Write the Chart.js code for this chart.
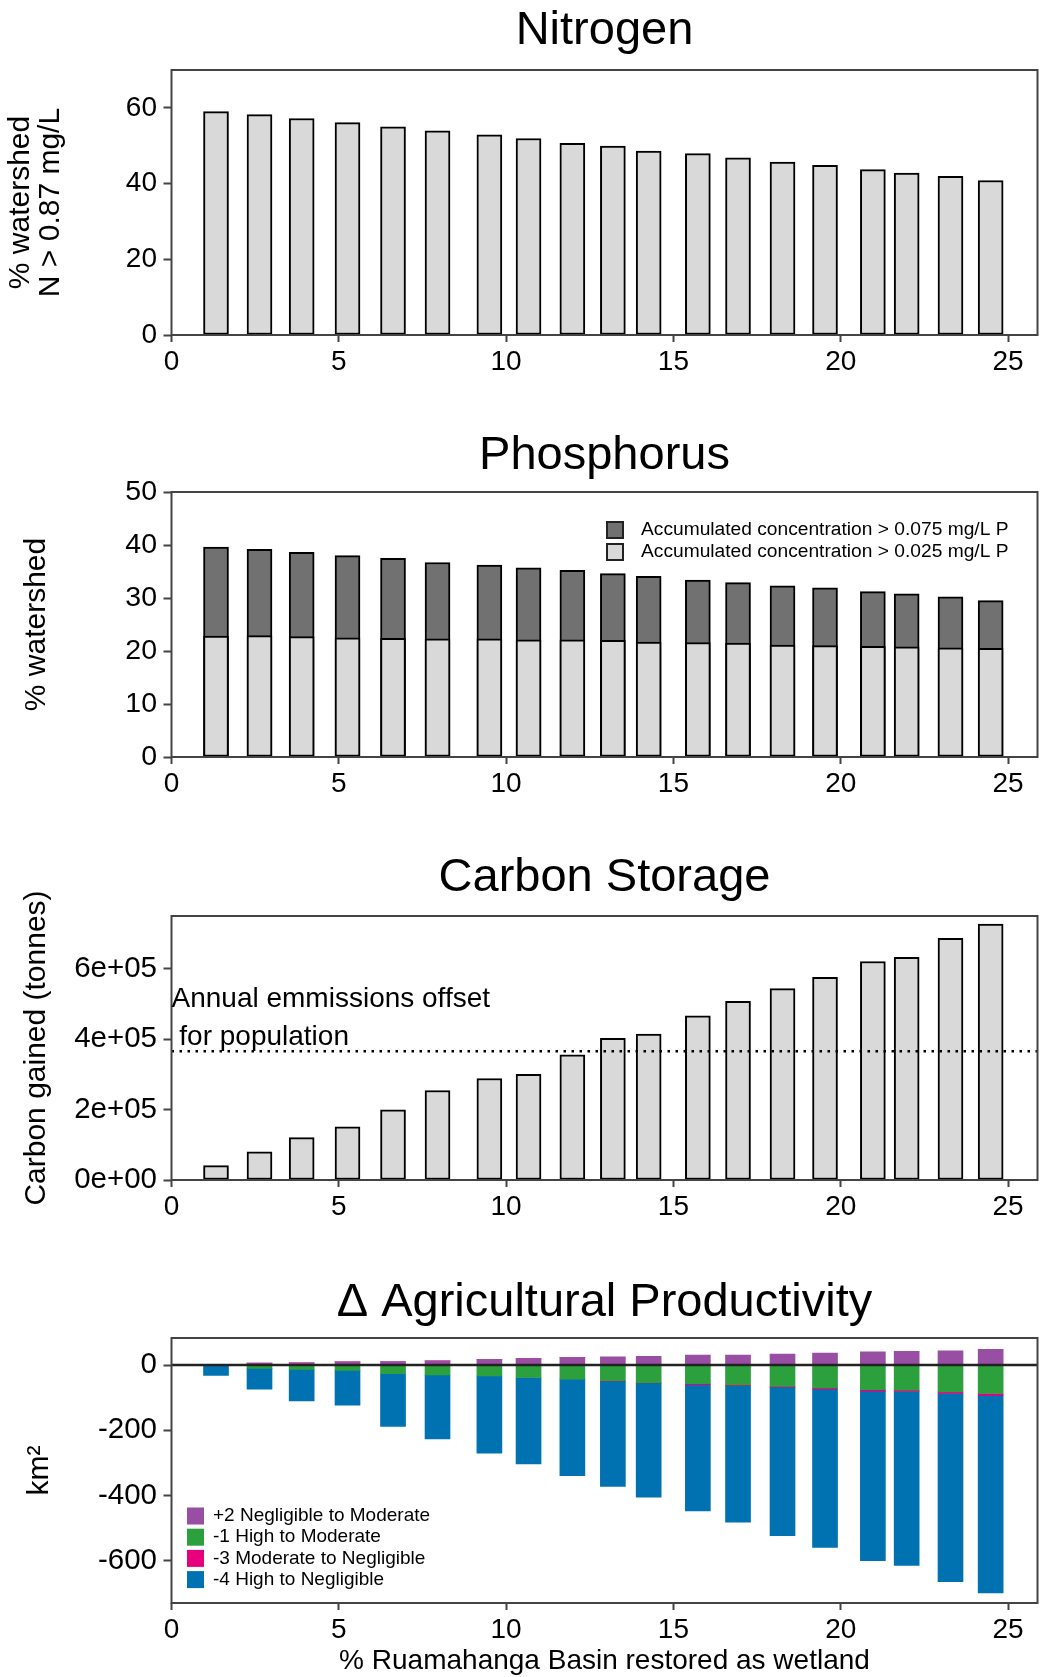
<!DOCTYPE html>
<html>
<head>
<meta charset="utf-8">
<title>Wetland restoration trade-offs</title>
<script src="https://cdn.jsdelivr.net/npm/chart.js@4.4.0/dist/chart.umd.min.js"></script>
<style>
  html, body { margin: 0; padding: 0; background: #fff; }
  #wrap { position: relative; width: 1043px; height: 1677px; }
  #wrap canvas { position: absolute; left: 0; }
</style>
</head>
<body>
<div id="wrap">
  <canvas id="nitrogenChart" width="1043" height="400" style="top:0px"></canvas>
  <canvas id="phosphorusChart" width="1043" height="420" style="top:400px"></canvas>
  <canvas id="carbonChart" width="1043" height="420" style="top:820px"></canvas>
  <canvas id="agriChart" width="1043" height="437" style="top:1240px"></canvas>
</div>
<script>
// ---- data ----
const restoredPct = [1.33, 2.63, 3.89, 5.26, 6.62, 7.95, 9.5, 10.67, 11.98, 13.19, 14.26, 15.73, 16.93, 18.26, 19.53, 20.96, 21.97, 23.28, 24.48];
const xTicks = [0, 5, 10, 15, 20, 25];
const xTickLabels = ['0', '5', '10', '15', '20', '25'];

const nitrogenPct = [59.0, 58.2, 57.2, 56.1, 55.0, 53.9, 52.9, 51.9, 50.6, 49.9, 48.6, 47.9, 46.8, 45.7, 44.8, 43.7, 42.8, 41.9, 40.8];
const nitrogenTicks = [0, 20, 40, 60];

// light part (> 0.025 mg/L P) and top of the dark part (> 0.075 mg/L P)
const phosLight = [22.8, 22.9, 22.7, 22.5, 22.4, 22.3, 22.3, 22.1, 22.1, 22.0, 21.7, 21.6, 21.5, 21.1, 21.0, 20.9, 20.8, 20.6, 20.5];
const phosTop = [39.6, 39.2, 38.6, 38.0, 37.5, 36.7, 36.2, 35.7, 35.2, 34.6, 34.1, 33.4, 32.9, 32.3, 31.9, 31.2, 30.8, 30.2, 29.5];
const phosTicks = [0, 10, 20, 30, 40, 50];

const carbonTonnes = [41000, 80000, 120000, 151000, 199000, 254000, 288000, 300000, 355000, 402000, 414000, 466000, 507000, 543000, 575000, 620000, 632000, 686000, 726000];
const carbonOffset = 365000;
const carbonTicks = [0, 200000, 400000, 600000];
const carbonTickLabels = ['0e+00', '2e+05', '4e+05', '6e+05'];

// km2 changing productivity class
const agriPlus2 = [0, 6, 7, 10, 11, 13, 18, 20, 23, 25, 27, 31, 31, 34, 37, 41, 42, 44, 48];
const agriMinus1 = [0, -10, -13, -16, -26, -30, -33, -38, -43, -48, -54, -57, -61, -65, -70, -75, -77, -82, -87];
const agriMinus3 = [0, 0, 0, 0, 0, 0, 0, 0, 0, -1, -1, -3, -2, -3, -4, -5, -4, -5, -6];
const agriMinus4 = [-32, -64, -97, -107, -162, -196, -237, -265, -296, -323, -350, -387, -418, -455, -485, -519, -533, -577, -605];
const agriTicks = [-600, -400, -200, 0];
const agriTickLabels = ['-600', '-400', '-200', '0'];

// ---- look ----
const fontFamily = "'Liberation Sans', Arial, sans-serif";
const axisColor = '#444';
const lightGrey = '#d9d9d9';
const darkGrey = '#717171';
const xMax = 25.88;

Chart.defaults.font.family = fontFamily;
Chart.defaults.color = '#000';

const points = ys => restoredPct.map((x, i) => ({ x, y: ys[i] }));

// box round the plot area, legends and notes drawn inside it
function extras(cfg) {
    return {
        id: 'extras',
        afterDatasetsDraw(chart) {
            const { ctx, chartArea: a } = chart;
            ctx.save();
            ctx.strokeStyle = axisColor;
            ctx.lineWidth = 2;
            ctx.strokeRect(a.left, a.top, a.right - a.left, a.bottom - a.top);

            if (cfg.legend) {
                const lg = cfg.legend;
                ctx.font = lg.size + 'px ' + fontFamily;
                ctx.textBaseline = 'middle';
                ctx.textAlign = 'left';
                lg.items.forEach((it, i) => {
                    const y = lg.y + i * lg.rowGap;
                    ctx.fillStyle = it.fill;
                    ctx.fillRect(lg.x, y - lg.box / 2, lg.box, lg.box);
                    if (it.stroke) {
                        ctx.strokeStyle = it.stroke;
                        ctx.lineWidth = 2;
                        ctx.strokeRect(lg.x + 1, y - lg.box / 2 + 1, lg.box - 2, lg.box - 2);
                    }
                    ctx.fillStyle = '#000';
                    ctx.fillText(it.label, lg.x + lg.box + lg.gap, y);
                });
            }

            if (cfg.note) {
                const n = cfg.note;
                const xs = chart.scales.x, ys = chart.scales.y;
                ctx.font = n.size + 'px ' + fontFamily;
                ctx.fillStyle = '#000';
                ctx.textBaseline = 'alphabetic';
                ctx.textAlign = 'left';
                n.lines.forEach((t, i) => {
                    ctx.fillText(t, xs.getPixelForValue(n.x), ys.getPixelForValue(n.y) + i * n.lineGap);
                });
            }
            ctx.restore();
        }
    };
}

function xScale(height, title) {
    return {
        type: 'linear',
        min: 0,
        max: xMax,
        offset: false,
        stacked: true,
        afterBuildTicks: axis => { axis.ticks = xTicks.map(v => ({ value: v })); },
        afterFit: axis => { axis.height = height; },
        grid: { drawOnChartArea: false, drawTicks: true, tickLength: 7, tickWidth: 2, tickColor: axisColor, offset: false },
        border: { display: false },
        ticks: { font: { size: 28 }, padding: 3, maxRotation: 0, autoSkip: false, callback: (v, i) => xTickLabels[i] },
        title: title || { display: false }
    };
}

function yScale(min, max, ticks, labels, tickSize, title, extra) {
    return Object.assign({
        min,
        max,
        afterBuildTicks: axis => { axis.ticks = ticks.map(v => ({ value: v })); },
        afterFit: axis => { axis.width = 171.5; },
        grid: { drawOnChartArea: false, drawTicks: true, tickLength: 8, tickWidth: 2, tickColor: axisColor },
        border: { display: false },
        ticks: { font: { size: tickSize }, padding: 6.5, autoSkip: false, callback: (v, i) => labels[i] },
        title
    }, extra || {});
}

function chartTitle(text, padTop, padBottom) {
    return {
        display: true,
        text,
        fullSize: false,
        color: '#000',
        font: { size: 47, weight: 'normal', lineHeight: 1 },
        padding: { top: padTop, bottom: padBottom }
    };
}

const baseOptions = {
    responsive: false,
    animation: false,
    devicePixelRatio: 1,
    layout: { padding: { left: 0, right: 5.5, top: 0, bottom: 0 } },
    events: []
};

// Nitrogen
new Chart(document.getElementById('nitrogenChart'), {
    type: 'bar',
    data: {
        datasets: [{
            data: points(nitrogenPct),
            backgroundColor: lightGrey,
            borderColor: '#000',
            borderWidth: 2,
            borderSkipped: false,
            barThickness: 25
        }]
    },
    options: Object.assign({}, baseOptions, {
        plugins: {
            legend: { display: false },
            tooltip: { enabled: false },
            title: chartTitle('Nitrogen', 7.5, 15.5)
        },
        scales: {
            x: xScale(65),
            y: yScale(0, 70, nitrogenTicks, nitrogenTicks.map(String), 28, {
                display: true,
                text: ['% watershed', 'N > 0.87 mg/L'],
                font: { size: 30, lineHeight: 1 },
                padding: { top: 6, bottom: 0 }
            })
        }
    }),
    plugins: [extras({})]
});

// Phosphorus: light bars drawn over the taller dark ones
new Chart(document.getElementById('phosphorusChart'), {
    type: 'bar',
    data: {
        datasets: [
            {
                label: 'Accumulated concentration > 0.025 mg/L P',
                data: points(phosLight),
                backgroundColor: lightGrey,
                borderColor: '#000',
                borderWidth: 2,
                borderSkipped: false,
                barThickness: 25
            },
            {
                label: 'Accumulated concentration > 0.075 mg/L P',
                data: points(phosTop),
                backgroundColor: darkGrey,
                borderColor: '#000',
                borderWidth: 2,
                borderSkipped: false,
                barThickness: 25
            }
        ]
    },
    options: Object.assign({}, baseOptions, {
        plugins: {
            legend: { display: false },
            tooltip: { enabled: false },
            title: chartTitle('Phosphorus', 33, 12)
        },
        scales: {
            x: xScale(63),
            y: yScale(0, 50, phosTicks, phosTicks.map(String), 28.5, {
                display: true,
                text: '% watershed',
                font: { size: 30, lineHeight: 1 },
                padding: { top: 22, bottom: 0 }
            }, { stacked: false })
        }
    }),
    plugins: [extras({
        legend: {
            x: 606, y: 130, rowGap: 22, box: 18, gap: 17, size: 19.2,
            items: [
                { label: 'Accumulated concentration > 0.075 mg/L P', fill: darkGrey, stroke: '#222' },
                { label: 'Accumulated concentration > 0.025 mg/L P', fill: lightGrey, stroke: '#222' }
            ]
        }
    })]
});

// Carbon storage
new Chart(document.getElementById('carbonChart'), {
    type: 'bar',
    data: {
        datasets: [
            {
                data: points(carbonTonnes),
                backgroundColor: lightGrey,
                borderColor: '#000',
                borderWidth: 2,
                borderSkipped: false,
                barThickness: 25
            },
            {
                type: 'line',
                data: [{ x: 0, y: carbonOffset }, { x: xMax, y: carbonOffset }],
                borderColor: '#000',
                borderWidth: 2.5,
                borderDash: [2.5, 5.5],
                pointRadius: 0,
                order: -1
            }
        ]
    },
    options: Object.assign({}, baseOptions, {
        plugins: {
            legend: { display: false },
            tooltip: { enabled: false },
            title: chartTitle('Carbon Storage', 34.5, 14.5)
        },
        scales: {
            x: xScale(60),
            y: yScale(0, 749000, carbonTicks, carbonTickLabels, 29.5, {
                display: true,
                text: 'Carbon gained (tonnes)',
                font: { size: 30, lineHeight: 1 },
                padding: { top: 22, bottom: 0 }
            })
        }
    }),
    plugins: [extras({
        note: { x: 0, y: 490000, lineGap: 38, size: 28, lines: ['Annual emmissions offset', ' for population'] }
    })]
});

// Agricultural productivity change
const agriBar = (label, values, color) => ({
    label,
    data: points(values),
    backgroundColor: color,
    borderWidth: 0,
    barThickness: 25
});

new Chart(document.getElementById('agriChart'), {
    type: 'bar',
    data: {
        datasets: [
            agriBar('+2 Negligible to Moderate', agriPlus2, '#984ea3'),
            agriBar('-1 High to Moderate', agriMinus1, '#2ca03c'),
            agriBar('-3 Moderate to Negligible', agriMinus3, '#e6007e'),
            agriBar('-4 High to Negligible', agriMinus4, '#0072b2'),
            {
                type: 'line',
                stack: 'zero',
                data: [{ x: 0, y: 0 }, { x: xMax, y: 0 }],
                borderColor: '#222',
                borderWidth: 2.5,
                pointRadius: 0,
                order: -1
            }
        ]
    },
    options: Object.assign({}, baseOptions, {
        plugins: {
            legend: { display: false },
            tooltip: { enabled: false },
            title: chartTitle('\u0394 Agricultural Productivity', 39.5, 11.5)
        },
        scales: {
            x: xScale(74, {
                display: true,
                text: '% Ruamahanga Basin restored as wetland',
                font: { size: 28, lineHeight: 1 },
                padding: { top: 0, bottom: 2 }
            }),
            y: yScale(-729, 83, agriTicks, agriTickLabels, 29.5, {
                display: true,
                text: 'km\u00b2',
                font: { size: 30, lineHeight: 1 },
                padding: { top: 25, bottom: 0 }
            }, { stacked: true })
        }
    }),
    plugins: [extras({
        legend: {
            x: 187, y: 276, rowGap: 21.2, box: 17, gap: 9, size: 19,
            items: [
                { label: '+2 Negligible to Moderate', fill: '#984ea3' },
                { label: '-1 High to Moderate', fill: '#2ca03c' },
                { label: '-3 Moderate to Negligible', fill: '#e6007e' },
                { label: '-4 High to Negligible', fill: '#0072b2' }
            ]
        }
    })]
});
</script>
</body>
</html>
